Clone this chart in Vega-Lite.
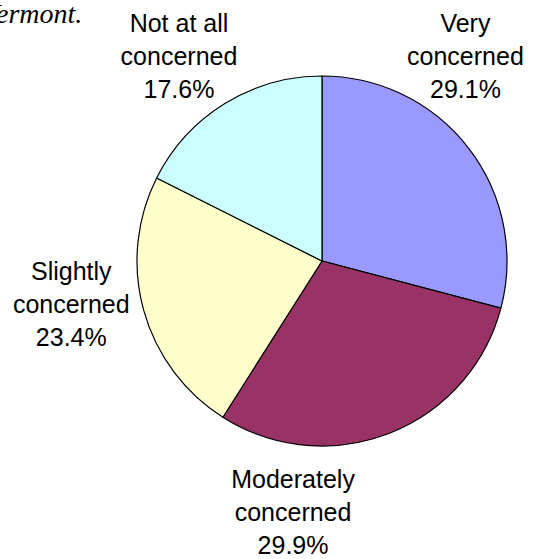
{
  "$schema": "https://vega.github.io/schema/vega-lite/v6.json",
  "autosize": {"type": "none"},
  "width": 442,
  "height": 522,
  "padding": {"left": 101, "top": 0, "right": 0, "bottom": 37},
  "background": "white",
  "datasets": {
    "shares": [
      {"cat": "Very concerned", "label": "Very\nconcerned", "value": 29.1, "order": 1},
      {"cat": "Moderately concerned", "label": "Moderately\nconcerned", "value": 29.9, "order": 2},
      {"cat": "Slightly concerned", "label": "Slightly\nconcerned", "value": 23.4, "order": 3},
      {"cat": "Not at all concerned", "label": "Not at all\nconcerned", "value": 17.6, "order": 4}
    ],
    "caption": [{"note": "Vermont."}]
  },
  "config": {"view": {"stroke": null}},
  "layer": [
    {
      "data": {"name": "caption"},
      "mark": {"type": "text", "align": "left", "baseline": "alphabetic", "dx": -340, "dy": -238, "font": "Liberation Serif", "fontStyle": "italic", "fontSize": 28, "fill": "black"},
      "encoding": {"text": {"field": "note", "type": "nominal"}}
    },
    {
      "data": {"name": "shares"},
      "transform": [
        {"calculate": "datum.label + '\\n' + format(datum.value, '.1f') + '%'", "as": "fullLabel"}
      ],
      "encoding": {
        "theta": {"field": "value", "type": "quantitative", "stack": true},
        "order": {"field": "order", "type": "quantitative"}
      },
      "layer": [
        {
          "mark": {"type": "arc", "outerRadius": 185, "stroke": "black", "strokeWidth": 1.2},
          "encoding": {
            "color": {
              "field": "cat",
              "type": "nominal",
              "scale": {
                "domain": ["Very concerned", "Moderately concerned", "Slightly concerned", "Not at all concerned"],
                "range": ["#9999FF", "#993366", "#FFFFCC", "#CCFFFF"]
              },
              "legend": null
            }
          }
        },
        {
          "mark": {"type": "text", "radius": 200, "dx": -15, "dy": -115, "align": "center", "baseline": "middle", "lineBreak": "\n", "lineHeight": 33, "font": "Liberation Sans", "fontSize": 25, "fill": "black"},
          "encoding": {"text": {"condition": {"test": "datum.cat === 'Very concerned'", "field": "fullLabel"}, "value": ""}}
        },
        {
          "mark": {"type": "text", "radius": 200, "dx": -102, "dy": 33, "align": "center", "baseline": "middle", "lineBreak": "\n", "lineHeight": 33, "font": "Liberation Sans", "fontSize": 25, "fill": "black"},
          "encoding": {"text": {"condition": {"test": "datum.cat === 'Moderately concerned'", "field": "fullLabel"}, "value": ""}}
        },
        {
          "mark": {"type": "text", "radius": 200, "dx": -58, "dy": -42, "align": "center", "baseline": "middle", "lineBreak": "\n", "lineHeight": 33, "font": "Liberation Sans", "fontSize": 25, "fill": "black"},
          "encoding": {"text": {"condition": {"test": "datum.cat === 'Slightly concerned'", "field": "fullLabel"}, "value": ""}}
        },
        {
          "mark": {"type": "text", "radius": 200, "dx": -38, "dy": -67, "align": "center", "baseline": "middle", "lineBreak": "\n", "lineHeight": 33, "font": "Liberation Sans", "fontSize": 25, "fill": "black"},
          "encoding": {"text": {"condition": {"test": "datum.cat === 'Not at all concerned'", "field": "fullLabel"}, "value": ""}}
        }
      ]
    }
  ]
}
